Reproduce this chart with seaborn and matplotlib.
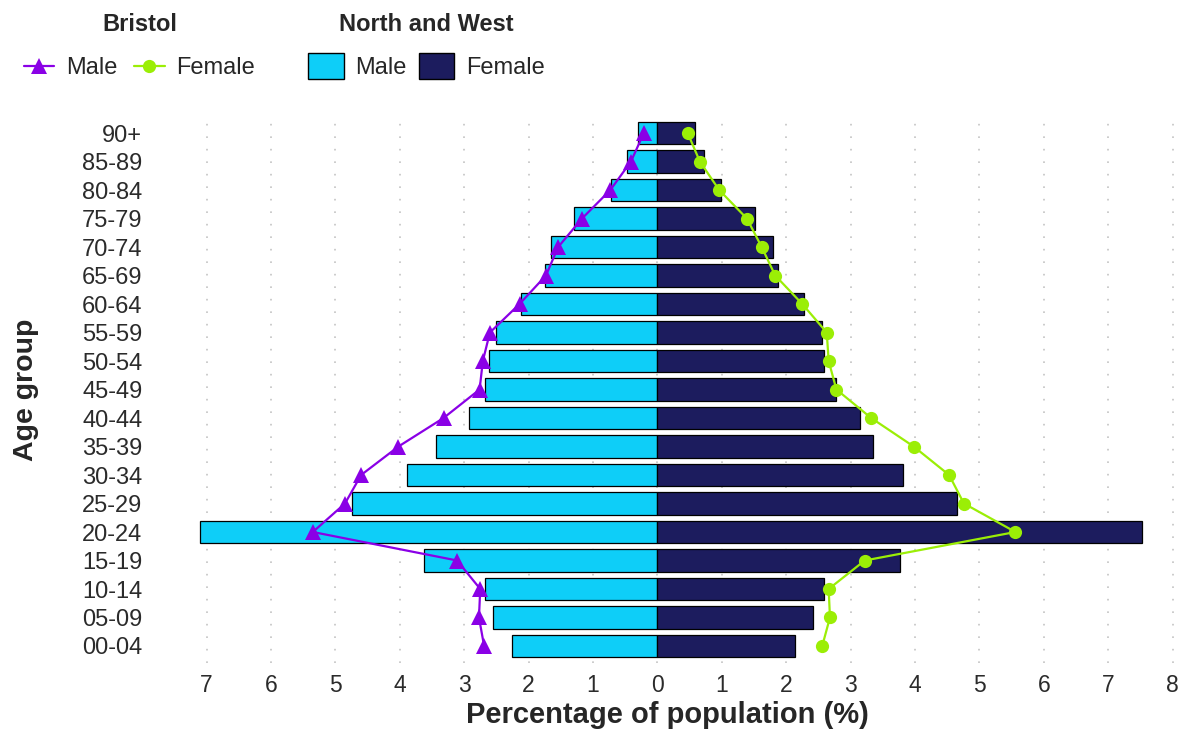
import numpy as np
import pandas as pd
import seaborn as sns
import matplotlib.pyplot as plt
from matplotlib.lines import Line2D
from matplotlib.patches import Patch

# age groups, bottom to top
ages = ["00-04", "05-09", "10-14", "15-19", "20-24", "25-29", "30-34", "35-39",
        "40-44", "45-49", "50-54", "55-59", "60-64", "65-69", "70-74", "75-79",
        "80-84", "85-89", "90+"]

# North and West (bars), % of population
nw_male = [2.26, 2.55, 2.67, 3.62, 7.10, 4.74, 3.88, 3.44, 2.93, 2.67,
           2.61, 2.50, 2.11, 1.74, 1.65, 1.30, 0.72, 0.47, 0.30]
nw_female = [2.14, 2.42, 2.59, 3.77, 7.52, 4.65, 3.82, 3.35, 3.15, 2.77,
             2.59, 2.55, 2.28, 1.87, 1.79, 1.52, 0.99, 0.72, 0.58]

# Bristol (lines), % of population
bri_male = [2.69, 2.77, 2.75, 3.11, 5.35, 4.85, 4.60, 4.02, 3.32, 2.76,
            2.71, 2.60, 2.14, 1.73, 1.54, 1.17, 0.73, 0.41, 0.21]
bri_female = [2.56, 2.68, 2.66, 3.22, 5.56, 4.76, 4.53, 3.98, 3.32, 2.78,
              2.66, 2.63, 2.25, 1.83, 1.62, 1.39, 0.96, 0.66, 0.47]

cyan = "#0ECEF8"
navy = "#1C1C5E"
purple = "#8A00E6"
green = "#9BEE06"

sns.set_style("white")
plt.rcParams["font.family"] = ["Liberation Sans", "DejaVu Sans"]

nw = pd.DataFrame({
    "age": ages * 2,
    "sex": ["Male"] * len(ages) + ["Female"] * len(ages),
    "pct": [-v for v in nw_male] + nw_female,
})

order = ages[::-1]  # 90+ at the top
pos = [order.index(a) for a in ages]

fig = plt.figure(figsize=(11.84, 7.29), dpi=100)
ax = fig.add_axes([0.1554, 0.0904, 0.8404, 0.7506])

ax.grid(False)
for t in range(-7, 9):
    ax.axvline(t, color="#C4C4C4", lw=1.2, ls=(0, (1, 6.5)), zorder=0)

sns.barplot(data=nw, x="pct", y="age", hue="sex", order=order,
            palette={"Male": cyan, "Female": navy}, saturation=1, dodge=False,
            width=0.78, edgecolor="black", linewidth=0.9, legend=False, ax=ax, zorder=2)

sns.lineplot(x=[-v for v in bri_male], y=pos, orient="y", sort=False, estimator=None,
             color=purple, marker="^", markersize=11, markeredgewidth=0,
             linewidth=1.6, ax=ax, zorder=3)
sns.lineplot(x=bri_female, y=pos, orient="y", sort=False, estimator=None,
             color=green, marker="o", markersize=9.5, markeredgewidth=0,
             linewidth=1.6, ax=ax, zorder=3)

ax.set_xlim(-7.35, 8.1)
ax.set_ylim(18.6, -0.6)
xt = np.arange(-7, 9)
ax.set_xticks(xt)
ax.set_xticklabels([str(abs(t)) for t in xt])
ax.tick_params(axis="x", length=0, pad=8, labelsize=16.5, labelcolor="#2b2b2b")
ax.tick_params(axis="y", length=0, pad=30, labelsize=17, labelcolor="#2b2b2b")
for s in ax.spines.values():
    s.set_visible(False)

ax.set_xlabel("Percentage of population (%)", fontsize=21, fontweight="bold")
ax.xaxis.set_label_coords(0.486, -0.07)
ax.set_ylabel("Age group", fontsize=20.5, fontweight="bold")
ax.yaxis.set_label_coords(-0.146, 0.5)

h_bri = [Line2D([], [], color=purple, marker="^", markersize=11, lw=1.6, markeredgewidth=0),
         Line2D([], [], color=green, marker="o", markersize=9.5, lw=1.6, markeredgewidth=0)]
leg1 = fig.legend(handles=h_bri, labels=["Male", "Female"], title="Bristol", ncol=2,
                  loc="upper left", bbox_to_anchor=(0.002, 1.012), frameon=False,
                  fontsize=17, handlelength=1.3, handletextpad=0.5, columnspacing=0.7,
                  labelspacing=0.92,
                  title_fontproperties={"weight": "bold", "size": 17})
h_nw = [Patch(facecolor=cyan, edgecolor="black", lw=1),
        Patch(facecolor=navy, edgecolor="black", lw=1)]
leg2 = fig.legend(handles=h_nw, labels=["Male", "Female"], title="North and West", ncol=2,
                  loc="upper left", bbox_to_anchor=(0.2424, 1.012), frameon=False,
                  fontsize=17, handlelength=1.5, handleheight=1.35, handletextpad=0.5,
                  columnspacing=0.5, labelspacing=0.73,
                  title_fontproperties={"weight": "bold", "size": 17})

fig.savefig("out.png", dpi=100)
